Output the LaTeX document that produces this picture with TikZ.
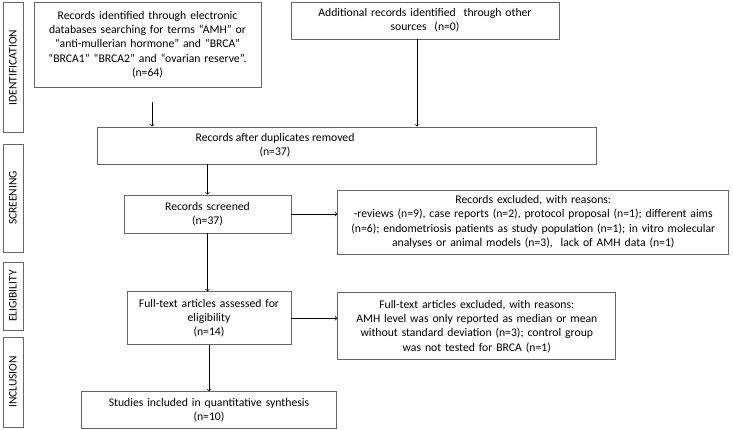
\documentclass[tikz,border=0pt]{standalone}
\usepackage{fontspec}
\setmainfont{Carlito}
\usetikzlibrary{positioning,calc}
\tikzset{block/.style={draw=black!60,line width=0.8pt,align=center,inner sep=2pt,font=\fontsize{11.7}{14.3}\selectfont},
         phase/.style={draw=black!60,line width=0.8pt,rotate=90,minimum height=20pt,inner sep=1pt,font=\fontsize{11.5}{13}\selectfont}
}
\tikzstyle{arrow} = [line width=0.7pt,->,>=to]

\begin{document}
\begin{tikzpicture}[x=1pt,y=-1pt]
\useasboundingbox (0,0) rectangle (733,429);

% stages
\node[phase,minimum width=130pt] (ident) at (13,67.5) {IDENTIFICATION};
\node[phase,minimum width=108pt] (screen) at (13,198) {SCREENING};
\node[phase,minimum width=68pt] (elig) at (13,296) {ELIGIBILITY};
\node[phase,minimum width=90pt] (incl) at (13,382) {INCLUSION};

\node[block,text width=223pt,minimum height=85pt] (search) at (147.5,44.5) {Records identified through electronic\\databases searching for terms “AMH” or\\“anti-mullerian hormone” and “BRCA”\\“BRCA1” “BRCA2” and “ovarian reserve”.\\(n=64)};
\node[block,text width=264pt,minimum height=37pt] (other) at (425,20.5) {Additional records identified\ \ through other\\sources\ \ (n=0)};
\node[block,minimum width=499pt,minimum height=37pt] (dup) at (346.5,145.5) {};
\node[align=center,font=\fontsize{11.7}{14.3}\selectfont] (duptext) at (275,145.5) {Records after duplicates removed\\(n=37)};
\node[block,text width=163pt,minimum height=38pt] (screened) at (207.5,214) {Records screened\\(n=37)};
\node[block,text width=387pt,minimum height=64pt,right=46pt of screened,yshift=-8pt] (excluded) {Records excluded, with reasons:\\-reviews (n=9), case reports (n=2), protocol proposal (n=1); different aims\\(n=6); endometriosis patients as study population (n=1); in vitro molecular\\analyses or animal models (n=3),\ \ lack of AMH data (n=1)};
\node[block,text width=160pt,minimum height=53pt,below=58pt of screened,xshift=1.5pt] (fulltext) {Full-text articles assessed for\\eligibility\\(n=14)};
\node[block,text width=274pt,minimum height=67pt,right=46pt of fulltext,yshift=-8pt] (ftexcl) {Full-text articles excluded, with reasons:\\AMH level was only reported as median or mean\\without standard deviation (n=3); control group\\was not tested for BRCA (n=1)};
\node[block,text width=251pt,minimum height=37pt,below=46pt of fulltext] (studies) {Studies included in quantitative synthesis\\(n=10)};

\coordinate (gap) at (152,102);
\draw[arrow] (gap)--(gap |- dup.north);
\draw[arrow] ([xshift=-8pt]other.south)--([xshift=-8pt]other.south |- dup.north);
\draw[arrow] (dup.south -| screened.north)--(screened.north);
\draw[arrow] (screened.east)--(screened.east -| excluded.west);
\draw[arrow] (screened.south)--(screened.south |- fulltext.north);
\draw[arrow] (fulltext.east)--(fulltext.east -| ftexcl.west);
\draw[arrow] (fulltext.south)--(fulltext.south |- studies.north);

\end{tikzpicture}
\end{document}
